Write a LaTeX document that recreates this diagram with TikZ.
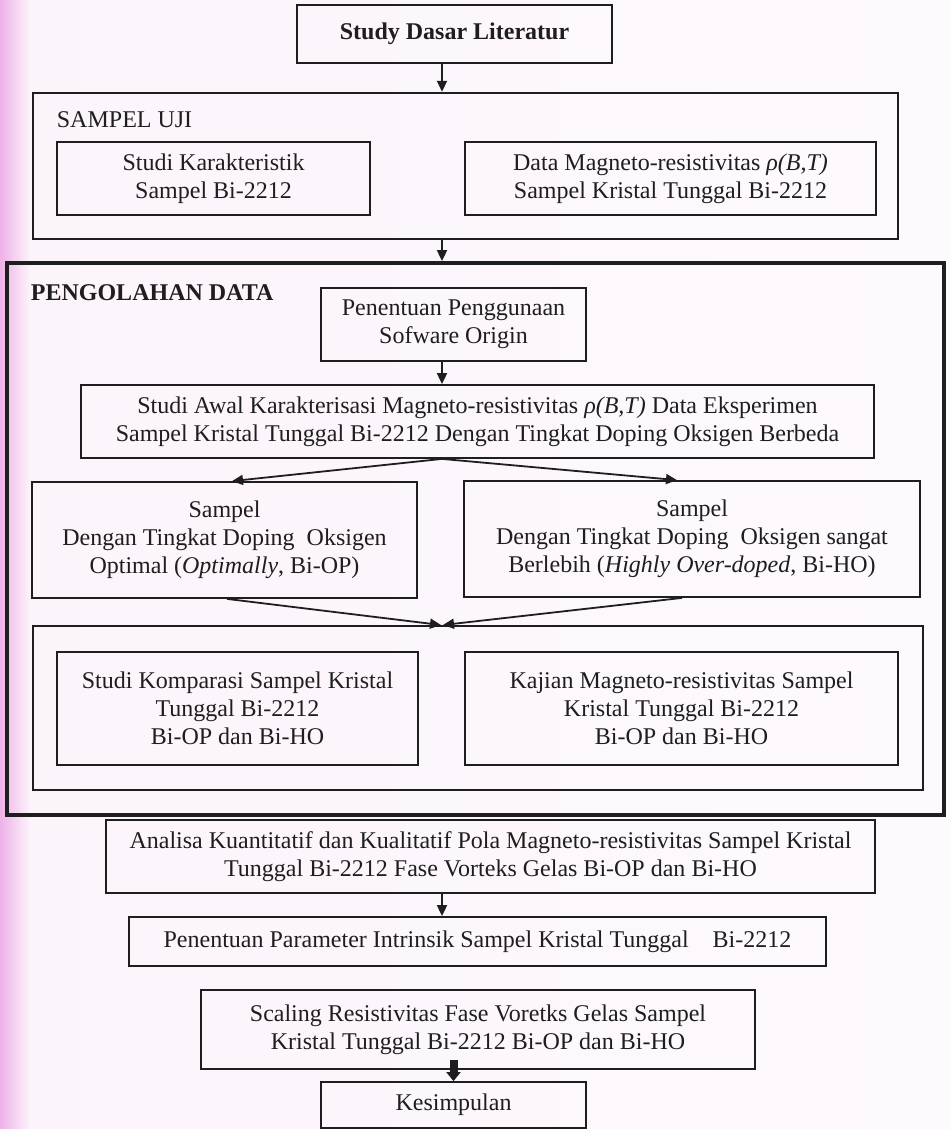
\documentclass[tikz,border=0pt]{standalone}
\usepackage{fontspec}
\setmainfont{Liberation Serif}
\usepackage{tikz}
\usetikzlibrary{arrows.meta,calc,positioning}

\definecolor{ink}{RGB}{30,30,30}
\definecolor{bgpink}{RGB}{252,244,251}
\definecolor{bgwhite}{RGB}{253,250,253}
\definecolor{edgepink}{RGB}{238,178,232}

\tikzset{
  box/.style={draw=ink, line width=0.9pt, align=center, inner sep=0pt,
    text=ink, font=\fontsize{12pt}{14pt}\selectfont},
  frame/.style={draw=ink, line width=1.2pt, inner sep=0pt},
  bigframe/.style={draw=ink, line width=1.9pt, inner sep=0pt},
  arr/.style={draw=ink, line width=0.9pt, -{Triangle[length=5.5pt,width=5pt]}},
  fatarr/.style={draw=ink, line width=4pt, -{Triangle[length=4.5pt,width=7pt]}}
}

\begin{document}
\begin{tikzpicture}[x=0.5pt,y=-0.5pt]
\useasboundingbox (0,0) rectangle (950,1129);
\shade[left color=bgpink, right color=bgwhite] (0,0) rectangle (950,1129);
\shade[left color=edgepink, right color=bgpink] (0,0) rectangle (30,1129);

% containers
\node[frame, minimum width=432.5pt, minimum height=73pt] (sampel) at (465.5,166) {};
\node[box, draw=none, anchor=west] (labelsampel) at (56,120) {SAMPEL UJI};
\node[bigframe, minimum width=468.5pt, minimum height=276pt] (olah) at (475.5,539) {};
\node[box, draw=none, anchor=west] (labelolah) at (30,293) {\textbf{PENGOLAHAN DATA}};
\node[frame, line width=1pt, minimum width=445pt, minimum height=82pt] (wadah) at (478,708) {};

% boxes
\node[box, minimum width=157.5pt, minimum height=29pt] (study) at (454.5,34) {\textbf{Study Dasar Literatur}};
\node[box, minimum width=156.5pt, minimum height=36.5pt] (karak) at (213.5,178.5)
  {Studi Karakteristik\\Sampel Bi-2212};
\node[box, minimum width=205.5pt, minimum height=36.5pt] (datamr) at (670.5,178.5)
  {Data Magneto-resistivitas \textit{ρ(B,T)}\\Sampel Kristal Tunggal Bi-2212};
\node[box, minimum width=132.5pt, minimum height=36.5pt] (software) at (453.5,324.5)
  {Penentuan Penggunaan\\Sofware Origin};
\node[box, minimum width=396.5pt, minimum height=36.5pt] (awal) at (477.5,421.5)
  {Studi Awal Karakterisasi Magneto-resistivitas \textit{ρ(B,T)} Data Eksperimen\\
   Sampel Kristal Tunggal Bi-2212 Dengan Tingkat Doping Oksigen Berbeda};
\node[box, minimum width=192.5pt, minimum height=58pt] (optimal) at (224.5,540)
  {Sampel\\Dengan Tingkat Doping\ \ Oksigen\\Optimal (\textit{Optimally}, Bi-OP)};
\node[box, minimum width=228pt, minimum height=58pt] (highly) at (692,539)
  {Sampel\\Dengan Tingkat Doping\ \ Oksigen sangat\\Berlebih (\textit{Highly Over-doped}, Bi-HO)};
\node[box, minimum width=180.5pt, minimum height=56.5pt] (komparasi) at (237.5,708.5)
  {Studi Komparasi Sampel Kristal\\Tunggal Bi-2212\\Bi-OP dan Bi-HO};
\node[box, minimum width=216.5pt, minimum height=56.5pt] (kajian) at (681.5,708.5)
  {Kajian Magneto-resistivitas Sampel\\Kristal Tunggal Bi-2212\\Bi-OP dan Bi-HO};
\node[box, minimum width=384.5pt, minimum height=36.5pt] (analisa) at (490.5,856.5)
  {Analisa Kuantitatif dan Kualitatif Pola Magneto-resistivitas Sampel Kristal\\
   Tunggal Bi-2212 Fase Vorteks Gelas Bi-OP dan Bi-HO};
\node[box, minimum width=348.5pt, minimum height=24.5pt] (parameter) at (477.5,941.5)
  {Penentuan Parameter Intrinsik Sampel Kristal Tunggal\quad Bi-2212};
\node[box, minimum width=277pt, minimum height=39.5pt] (scaling) at (478,1029.5)
  {Scaling Resistivitas Fase Voretks Gelas Sampel\\Kristal Tunggal Bi-2212 Bi-OP dan Bi-HO};
\node[box, minimum width=132.5pt, minimum height=23pt] (kesimpulan) at (453.5,1105) {Kesimpulan};

% connectors
\coordinate (axis) at (442,0);
\draw[arr] (study.south -| axis) -- (sampel.north -| axis);
\draw[arr] (sampel.south -| axis) -- (olah.north -| axis);
\draw[arr] (software.south -| axis) -- (awal.north -| axis);
\draw[arr] (awal.south -| axis) -- ([xshift=3.75pt]optimal.north);
\draw[arr] (awal.south -| axis) -- ([xshift=-7.5pt]highly.north);
\draw[arr] ([xshift=1.25pt]optimal.south) -- ([xshift=-0.5pt]wadah.north -| axis);
\draw[arr] ([xshift=-5pt]highly.south) -- ([xshift=0.5pt]wadah.north -| axis);
\draw[arr] (analisa.south -| axis) -- (parameter.north -| axis);
\draw[fatarr] ([yshift=5pt]scaling.south -| kesimpulan) -- (kesimpulan.north);
\end{tikzpicture}
\end{document}
